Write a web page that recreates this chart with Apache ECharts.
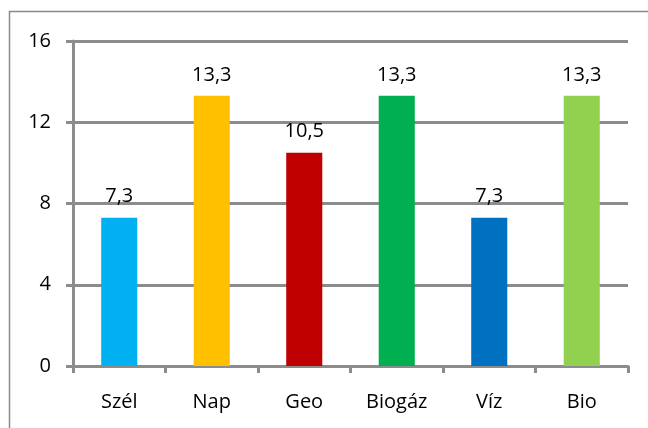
<!DOCTYPE html>
<html><head><meta charset="utf-8">
<script src="https://cdn.jsdelivr.net/npm/echarts@6/dist/echarts.min.js"></script>
<style>html,body{margin:0;padding:0;background:#fff}#c{width:648px;height:428px}</style>
</head><body><div id="c"></div>
<script>
const categories = ['Szél', 'Nap', 'Geo', 'Biogáz', 'Víz', 'Bio'];
const values = [7.3, 13.3, 10.5, 13.3, 7.3, 13.3];
const colors = ['#00B0F0', '#FFC000', '#C00000', '#00B050', '#0070C0', '#92D050'];
const yTicks = [0, 4, 8, 12, 16];

const chart = echarts.init(document.getElementById('c'), null, {renderer: 'canvas'});
const FONT = 'Open Sans';
const GRAY = '#8c8c8c';
chart.setOption({
  animation: false,
  backgroundColor: '#fff',
  graphic: [{type: 'rect', shape: {x: 9.5, y: 11.5, width: 700, height: 500},
    style: {fill: 'none', stroke: '#8a8a8a', lineWidth: 1.5}, z: -1}],
  grid: {left: 73, right: 20, top: 41, bottom: 62},
  xAxis: {
    type: 'category', data: categories,
    axisLine: {lineStyle: {color: GRAY, width: 3}},
    axisTick: {show: true, length: 7, lineStyle: {color: GRAY, width: 3}},
    axisLabel: {color: '#000', fontSize: 20, fontFamily: FONT, margin: 26}
  },
  yAxis: {
    type: 'value', min: yTicks[0], max: yTicks[yTicks.length - 1], interval: 4,
    axisLine: {show: true, lineStyle: {color: GRAY, width: 3}},
    axisTick: {show: true, length: 7, lineStyle: {color: GRAY, width: 3}},
    axisLabel: {color: '#000', fontSize: 20, fontFamily: FONT, margin: 22},
    splitLine: {lineStyle: {color: GRAY, width: 3}}
  },
  series: [{
    type: 'bar', barWidth: '39%',
    data: values.map((v, i) => ({value: v, itemStyle: {color: colors[i]}})),
    label: {show: true, position: 'top', distance: 11, color: '#000', fontSize: 20, fontFamily: FONT,
      formatter: p => p.value.toFixed(1).replace('.', ',')}
  }]
});
</script></body></html>
